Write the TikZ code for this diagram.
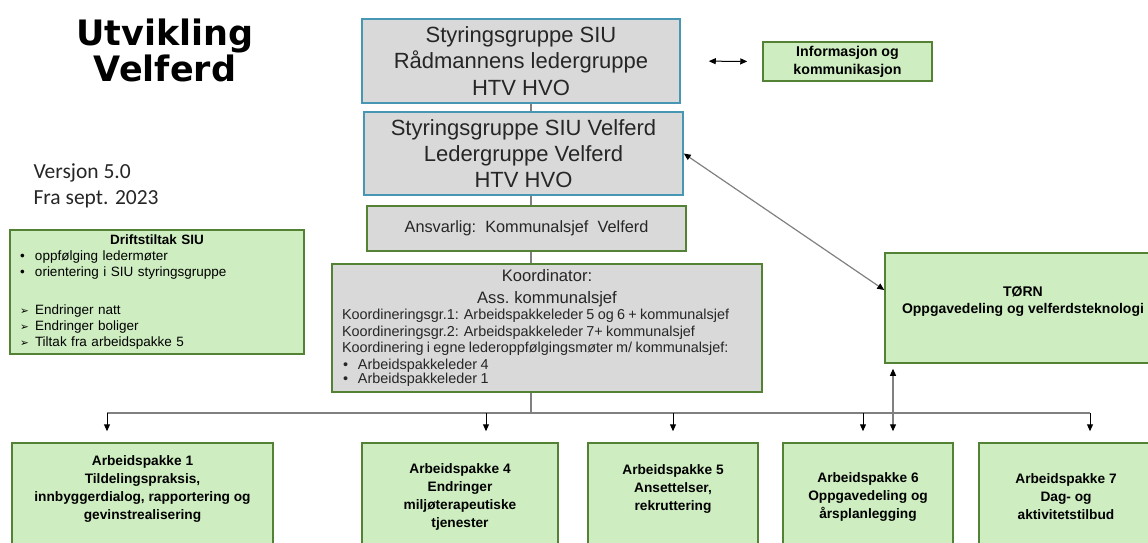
\documentclass[tikz,border=0pt]{standalone}
\usepackage{fontspec}
\setmainfont{Liberation Sans}
\newfontfamily\titfont{DejaVu Sans}
\newfontfamily\calfont{Carlito}
\newfontfamily\pilfont{DejaVu Sans}
\usepackage{xcolor}
\usepackage{tikz}
\usetikzlibrary{arrows.meta, calc}

\definecolor{boksgra}{RGB}{217,217,217}
\definecolor{boksgronn}{RGB}{206,238,193}
\definecolor{kantgronn}{RGB}{84,130,53}
\definecolor{kantbla}{RGB}{70,150,180}
\definecolor{linjegra}{RGB}{128,128,128}

\newcommand{\fs}[2]{\fontsize{#1}{#2}\selectfont}
\newcommand{\kule}{\makebox[15pt][l]{\textbullet}}
\newcommand{\pilpunkt}{\makebox[15pt][l]{\pilfont\fs{10.5}{10}➢}}

\begin{document}
\begin{tikzpicture}[
    x=1pt, y=-1pt,
    >={Triangle[length=7pt,width=6pt,color=black]},
    boks/.style={draw, line width=1.5pt, inner sep=0pt, align=center},
    styreboks/.style={boks, draw=kantbla, fill=boksgra, text=black!85},
    graboks/.style={boks, draw=kantgronn, fill=boksgra, text=black!85},
    gronnboks/.style={boks, draw=kantgronn, fill=boksgronn, font=\bfseries\fs{13.7}{18}},
    buss/.style={draw=linjegra, line width=1.3pt},
    pil/.style={->, line width=1pt, shorten >=11pt},
    dobbel/.style={<->, draw=linjegra, line width=1.2pt}
  ]
  \useasboundingbox (0,0) rectangle (1148,543);

  % Tittel og versjon
  \node[font=\titfont\bfseries\fs{35}{36}, align=center] (tittel) at (165,50) {Utvikling\\Velferd};
  \node[font=\calfont\fs{21.5}{26}, text=black!85, align=left, anchor=west] (versjon) at (30,186)
    {Versjon 5.0\\Fra sept. 2023};

  % Styringsgrupper
  \node[styreboks, minimum width=318pt, minimum height=84pt, font=\fs{22}{26.5}] (sg1) at (521,61)
    {Styringsgruppe SIU\\Rådmannens ledergruppe\\HTV HVO};
  \node[styreboks, minimum width=319pt, minimum height=83pt, font=\fs{22}{26}] (sg2) at (523.5,153.5)
    {Styringsgruppe SIU Velferd\\Ledergruppe Velferd\\HTV HVO};
  \node[graboks, minimum width=319pt, minimum height=45pt, font=\fs{16.3}{20}] (ansv) at (526.5,228.5)
    {Ansvarlig:\ \ Kommunalsjef\ \ Velferd};

  % Koordinator
  \node[graboks, minimum height=128pt, text width=410pt, inner xsep=10pt, inner ysep=1pt, align=left] (koord) at (547,328)
    {{\centering\fs{16.6}{22}Koordinator:\\Ass. kommunalsjef\par}
     \fs{14.4}{16.4}Koordineringsgr.1: Arbeidspakkeleder 5 og 6 + kommunalsjef\\
     Koordineringsgr.2: Arbeidspakkeleder 7+ kommunalsjef\\
     Koordinering i egne lederoppfølgingsmøter m/ kommunalsjef:\\
     \hspace*{1pt}\makebox[15pt][l]{\textbullet}Arbeidspakkeleder 4\\
     \hspace*{1pt}\makebox[15pt][l]{\textbullet}Arbeidspakkeleder 1};

  % Sidebokser
  \node[gronnboks, minimum width=169pt, minimum height=39pt, font=\bfseries\fs{14.2}{18}] (info) at (847.5,61.5)
    {Informasjon og\\kommunikasjon};
  \node[boks, draw=kantgronn, fill=boksgronn, minimum height=124pt, text width=274pt, inner xsep=10pt, align=left,
        font=\fs{13.5}{16}] (drift) at (157,292)
    {{\centering\bfseries Driftstiltak SIU\par}
     \kule oppfølging ledermøter\\
     \kule orientering i SIU styringsgruppe\\[22pt]
     \pilpunkt Endringer natt\\
     \pilpunkt Endringer boliger\\
     \pilpunkt Tiltak fra arbeidspakke 5};
  \node[gronnboks, minimum width=276pt, minimum height=110pt, font=\bfseries\fs{14}{17}] (torn) at (1023,308)
    {TØRN\\Oppgavedeling og velferdsteknologi\\\mbox{}};

  % Arbeidspakker
  \node[gronnboks, minimum width=261pt, minimum height=107pt] (ap1) at (142.5,496.5)
    {Arbeidspakke 1\\Tildelingspraksis,\\innbyggerdialog, rapportering og\\gevinstrealisering\\\mbox{}};
  \node[gronnboks, minimum width=196pt, minimum height=107pt] (ap4) at (460,496.5)
    {Arbeidspakke 4\\Endringer\\miljøterapeutiske\\tjenester};
  \node[gronnboks, minimum width=170pt, minimum height=107pt] (ap5) at (673,496.5)
    {Arbeidspakke 5\\Ansettelser,\\rekruttering\\\mbox{}};
  \node[gronnboks, minimum width=170pt, minimum height=107pt] (ap6) at (868,496.5)
    {Arbeidspakke 6\\Oppgavedeling og\\årsplanlegging};
  \node[gronnboks, minimum width=174pt, minimum height=107pt] (ap7) at (1066,496.5)
    {Arbeidspakke 7\\Dag- og\\aktivitetstilbud};

  % Linjer
  \coordinate (spine) at (531,413);
  \foreach \n/\x in {1/107,4/486,5/673,6/863,7/1090}
    \coordinate (b\n) at (\x,413);
  \coordinate (tb) at (893,413);

  \draw[buss] (sg1.south -| spine) -- (sg2.north -| spine);
  \draw[buss] (sg2.south -| spine) -- (ansv.north -| spine);
  \draw[buss] (ansv.south -| spine) -- (koord.north -| spine);
  \draw[buss] (koord.south -| spine) -- (spine);
  \draw[buss] (b1) -- (b7);
  \foreach \n in {1,4,5,6,7}
    \draw[pil] (b\n) -- (b\n |- ap\n.north);

  % Doble piler
  \draw[<->, line width=1pt, shorten <=28pt, shorten >=15pt] (sg1.east) -- (info.west);
  \draw[dobbel] (sg2.east) -- ($(torn.west)+(0,-18)$);
  \draw[dobbel, shorten <=5pt, shorten >=11pt] (torn.south -| tb) -- (tb |- ap6.north);
\end{tikzpicture}
\end{document}
